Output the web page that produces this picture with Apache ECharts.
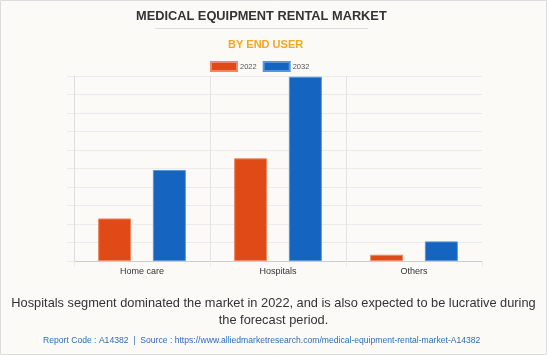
<!DOCTYPE html>
<html><head><meta charset="utf-8">
<script src="https://cdn.jsdelivr.net/npm/echarts@6/dist/echarts.min.js"></script>
<style>html,body{margin:0;padding:0;background:#fbfaf6;}#c{width:547px;height:355px;}</style>
</head><body><div id="c"></div>
<script>
const categories = ['Home care', 'Hospitals', 'Others'];
const seriesNames = ['2022', '2032'];
const values2022 = [2.3, 5.55, 0.34];
const values2032 = [4.92, 9.96, 1.06];

const chart = echarts.init(document.getElementById('c'));
const F = 'Liberation Sans, Arial, sans-serif';
const sepColors = ['#e3e3e3', '#e3e3e3', '#e3e3e3', 'rgba(0,0,0,0)'];
chart.setOption({
  backgroundColor: '#fbfaf6',
  animation: false,
  title: [
    {text: 'MEDICAL EQUIPMENT RENTAL MARKET', left: 131, top: 5,
     textStyle: {fontFamily: F, fontSize: 12.8, fontWeight: 'bold', color: '#333333'}},
    {text: 'BY END USER', left: 223, top: 34,
     textStyle: {fontFamily: F, fontSize: 11, fontWeight: 'bold', color: '#f5a623'}}
  ],
  legend: {
    data: seriesNames, top: 56, left: 205, itemWidth: 26, itemHeight: 9, itemGap: 6,
    icon: 'rect',
    textStyle: {fontFamily: F, fontSize: 7.5, color: '#555', padding: [0, 0, 0, -2]}
  },
  grid: {left: 74, right: 65, top: 76, bottom: 94, containLabel: false},
  xAxis: {
    type: 'category', data: categories,
    axisLine: {lineStyle: {color: '#cccccc'}},
    axisTick: {show: true, length: 6, lineStyle: {color: sepColors}},
    splitLine: {show: true, lineStyle: {color: sepColors}},
    axisLabel: {fontFamily: F, fontSize: 9, color: '#333', margin: 6}
  },
  yAxis: {
    type: 'value', min: 0, max: 10, interval: 1,
    axisLine: {show: true, lineStyle: {color: '#dddddd'}},
    axisTick: {show: true, length: 7, lineStyle: {color: '#ebebeb'}},
    axisLabel: {show: false},
    splitLine: {lineStyle: {color: '#ebebeb'}}
  },
  series: [
    {name: '2022', type: 'bar', data: values2022, barWidth: 33, barGap: '66%',
     itemStyle: {color: '#e04a17', borderColor: '#f08a66', borderWidth: 1}},
    {name: '2032', type: 'bar', data: values2032, barWidth: 33,
     itemStyle: {color: '#1565c0', borderColor: '#5a95db', borderWidth: 1}}
  ],
  graphic: [
    {type: 'rect', shape: {x: 0.5, y: 0.5, width: 546, height: 354}, style: {fill: 'none', stroke: '#dddddd', lineWidth: 1}},
    {type: 'line', shape: {x1: 155, y1: 28.5, x2: 368, y2: 28.5}, style: {stroke: '#dddddd', lineWidth: 1}},
    {type: 'text', left: 'center', top: 295, style: {text: 'Hospitals segment dominated the market in 2022, and is also expected to be lucrative during\nthe forecast period.', textAlign: 'center', font: '12.8px Liberation Sans, Arial, sans-serif', fill: '#333333', lineHeight: 17}},
    {type: 'text', left: 43, top: 336, style: {text: 'Report Code : A14382  |  Source : https://www.alliedmarketresearch.com/medical-equipment-rental-market-A14382', font: '8.6px Liberation Sans, Arial, sans-serif', fill: '#2f6db5'}}
  ]
});
</script></body></html>
